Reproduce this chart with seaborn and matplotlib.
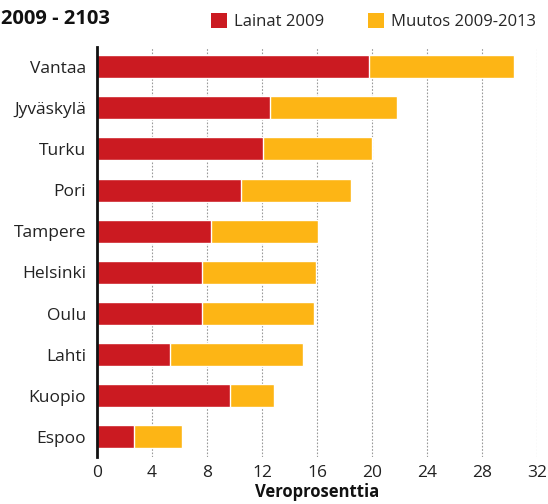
import matplotlib
matplotlib.use("Agg")
import matplotlib.pyplot as plt
from matplotlib.patches import Patch
import pandas as pd
import seaborn as sns

# Kuntien veroprosentteina ilmaistut lainat
kunnat = ["Vantaa", "Jyväskylä", "Turku", "Pori", "Tampere",
          "Helsinki", "Oulu", "Lahti", "Kuopio", "Espoo"]
lainat_2009 = [19.8, 12.6, 12.1, 10.5, 8.3, 7.6, 7.6, 5.3, 9.7, 2.7]
muutos_2009_2013 = [10.5, 9.2, 7.9, 8.0, 7.8, 8.3, 8.2, 9.7, 3.2, 3.5]
x_ticks = [0, 4, 8, 12, 16, 20, 24, 28, 32]

RED = "#CB1A21"
ORANGE = "#FDB515"

df = pd.DataFrame({"kunta": kunnat, "lainat": lainat_2009, "muutos": muutos_2009_2013})
df["yhteensa"] = df["lainat"] + df["muutos"]

sns.set_theme(style="white")
plt.rcParams["font.family"] = ["Open Sans", "DejaVu Sans"]

fig = plt.figure(figsize=(5.48, 5.04), dpi=100)
ax = fig.add_axes([0.177, 0.093, 0.803, 0.814])

sns.barplot(data=df, y="kunta", x="yhteensa", order=kunnat, orient="h",
            color=ORANGE, saturation=1, width=0.56, ax=ax, zorder=2)
sns.barplot(data=df, y="kunta", x="lainat", order=kunnat, orient="h",
            color=RED, saturation=1, width=0.56, ax=ax, zorder=3)

ax.set_xlim(0, 32)
ax.set_ylim(9.49, -0.48)
ax.set_xticks(x_ticks)
ax.set_xticklabels([str(t) for t in x_ticks], fontsize=12.5, color="#222222")
ax.tick_params(axis="y", labelsize=12.5, colors="#222222", length=0, pad=8)
ax.tick_params(axis="x", length=0, pad=6)
ax.set_ylabel("")
ax.set_xlabel("Veroprosenttia", fontsize=12, fontweight="bold", color="#111111", labelpad=1)

for t in x_ticks[1:]:
    ax.axvline(t, color="#9a9a9a", linestyle=(0, (1.5, 1.5)), linewidth=0.8, zorder=1)

for side in ["top", "right", "bottom"]:
    ax.spines[side].set_visible(False)
ax.spines["left"].set_color("#111111")
ax.spines["left"].set_linewidth(2)
ax.spines["left"].set_zorder(4)

fig.text(0.002, 0.963, "2009 - 2103", fontsize=14.5, fontweight="bold",
         color="#111111", ha="left", va="center")

handles = [Patch(facecolor=RED, edgecolor="none", label="Lainat 2009"),
           Patch(facecolor=ORANGE, edgecolor="none", label="Muutos 2009-2013")]
fig.legend(handles=handles, loc="center right", bbox_to_anchor=(0.99, 0.958),
           ncol=2, frameon=False, fontsize=12, handlelength=1.0, handleheight=1.0,
           handletextpad=0.4, columnspacing=2.6, borderaxespad=0)

fig.savefig("out.png", dpi=100)
